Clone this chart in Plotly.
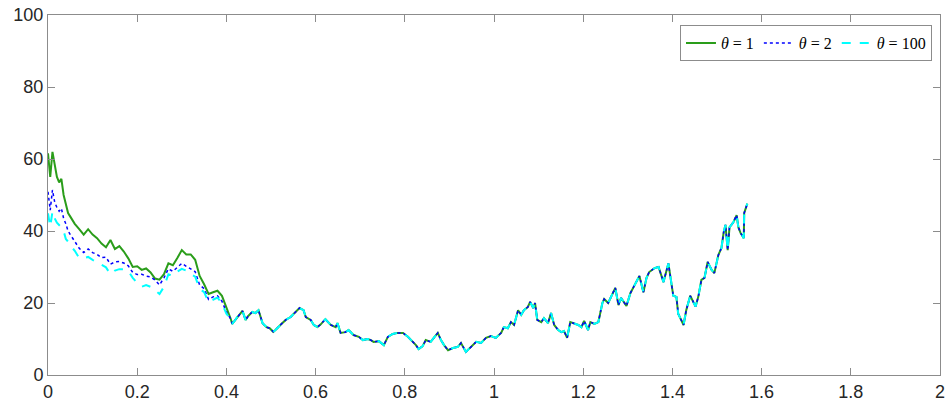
import plotly.graph_objects as go

# early part, where the three curves still differ
early_t = [0, 0.005, 0.01, 0.015, 0.02, 0.025, 0.03, 0.035, 0.04, 0.045, 0.05,
           0.06, 0.07, 0.08, 0.09, 0.10, 0.11, 0.12, 0.13, 0.14, 0.15, 0.16, 0.17,
           0.18, 0.19, 0.20, 0.21, 0.22, 0.23, 0.24, 0.25, 0.26, 0.27, 0.28, 0.29,
           0.30, 0.31, 0.32, 0.33, 0.34, 0.35, 0.36, 0.37, 0.38, 0.39, 0.40]
early_theta1 = [61.6, 55, 62, 58, 55, 53.5, 54.5, 50, 47, 45, 44,
                42, 40.5, 39, 40.5, 39, 38, 36.5, 35.5, 37.5, 35, 35.8, 34.3,
                32.4, 30, 30.2, 29.2, 29.6, 28.5, 26.8, 26.5, 28, 31, 30.5, 32.5,
                34.7, 33.5, 33.5, 32, 27.5, 25.2, 22.5, 23, 23.4, 22, 19]
early_theta2 = [50.9, 45.8, 51.4, 48, 46.5, 45.5, 46.3, 43.5, 42, 40, 39,
                37, 35.2, 34, 35, 34, 33.5, 32.6, 32.7, 30.8, 31.4, 31.5, 31.1,
                30.3, 28.5, 27.9, 28, 27.5, 27.2, 26.4, 25, 27, 29.5, 28.8, 30,
                31, 30.2, 29.4, 28.7, 25, 24, 21, 21.7, 22, 20.5, 17.5]
early_theta100 = [44.9, 41.2, 45.4, 43.5, 42.3, 41.7, 41, 40, 37.8, 37, 36,
                  34.5, 32.5, 32.5, 32.8, 32, 31.3, 30.6, 29.9, 28, 29, 29.4, 29.4,
                  28.9, 27, 25.5, 24.5, 25, 24.5, 23.5, 22.5, 24.5, 28, 27.5, 28.7,
                  29.5, 29, 28, 27.3, 24, 23, 20.3, 21, 21.5, 20, 17]

# after ~0.4 the curves coincide
tail_t = [0.41, 0.413, 0.42, 0.427, 0.436, 0.443, 0.449, 0.458, 0.465, 0.472, 0.481,
          0.49, 0.497, 0.505, 0.51, 0.521, 0.533, 0.544, 0.555, 0.564, 0.573, 0.578,
          0.589, 0.596, 0.604, 0.611, 0.622, 0.634, 0.645, 0.649, 0.656, 0.667, 0.674,
          0.685, 0.697, 0.706, 0.717, 0.724, 0.73, 0.742, 0.753, 0.762, 0.773, 0.784,
          0.796, 0.807, 0.818, 0.825, 0.831, 0.84, 0.847, 0.858, 0.865, 0.874, 0.881,
          0.888, 0.897, 0.908, 0.919, 0.926, 0.937, 0.948, 0.96, 0.971, 0.982, 0.993,
          1.004, 1.016, 1.022, 1.031, 1.038, 1.045, 1.054, 1.061, 1.067, 1.076, 1.081,
          1.088, 1.092, 1.097, 1.106, 1.112, 1.121, 1.128, 1.135, 1.144, 1.151, 1.157,
          1.164, 1.171, 1.18, 1.189, 1.196, 1.202, 1.211, 1.216, 1.225, 1.234, 1.243,
          1.247, 1.256, 1.263, 1.272, 1.279, 1.285, 1.297, 1.306, 1.312, 1.326, 1.335,
          1.342, 1.348, 1.36, 1.369, 1.38, 1.391, 1.402, 1.409, 1.413, 1.425, 1.431,
          1.44, 1.452, 1.458, 1.465, 1.472, 1.479, 1.488, 1.494, 1.503, 1.51, 1.515,
          1.519, 1.524, 1.528, 1.537, 1.544, 1.548, 1.553, 1.56, 1.561, 1.568]
tail_vals = [15.5, 14.2, 15.3, 16.7, 17.8, 15.3, 16.4, 17.5, 17.2, 18, 14.4,
             13.3, 13, 12, 12.5, 13.9, 15.3, 16.1, 17.5, 18.6, 18, 16.1,
             15.3, 13.9, 13.3, 14, 15.5, 13.9, 13.3, 14.4, 11.7, 11.9, 12.5,
             11.1, 10.6, 9.7, 10, 9.7, 9.2, 9.4, 8.3, 10.6, 11.4, 11.7,
             11.7, 10.6, 9.2, 8.3, 7.2, 8, 9.7, 9.2, 10.3, 11.7, 9.7,
             8.3, 6.9, 7.5, 7.8, 8.9, 6.4, 7.8, 9.2, 8.9, 10.3, 10.8,
             10.3, 11.7, 13.3, 13, 14.7, 13.9, 18, 16.7, 18, 18.9, 20.3,
             18.6, 20, 15.3, 14.7, 15.8, 14.4, 17.2, 13.9, 12.5, 11.9, 12.2,
             10.3, 14.7, 14.4, 13.9, 13.3, 15, 12.5, 14.7, 14.2, 14.7, 20,
             21.1, 20, 21.7, 24.2, 19.4, 21.4, 19.2, 22.8, 24.2, 27.5, 23,
             27, 28.6, 29.7, 30, 25.8, 31, 22, 21.7, 17, 13.9, 18,
             22, 19, 21.7, 26.4, 27, 31.4, 29.2, 28.3, 33.3, 35.3, 39.7,
             41.7, 34.7, 41, 42.5, 44.4, 41, 39.4, 38, 45, 47.6]

x_ticks = [0, 0.2, 0.4, 0.6, 0.8, 1, 1.2, 1.4, 1.6, 1.8, 2]
x_tick_labels = ['0', '0.2', '0.4', '0.6', '0.8', '1', '1.2', '1.4', '1.6', '1.8', '2']

series = [
    ("<i>θ</i> = 1", early_theta1, "#2a9d1a", "solid", 2),
    ("<i>θ</i> = 2", early_theta2, "#0000ff", "dot", 1.5),
    ("<i>θ</i> = 100", early_theta100, "#00ffff", "dash", 2),
]

fig = go.Figure()
for name, early, color, dash, width in series:
    fig.add_trace(go.Scatter(
        x=early_t + tail_t,
        y=early + tail_vals,
        mode='lines',
        name=name,
        line=dict(color=color, dash=dash, width=width)
    ))

axis_style = dict(
    showgrid=False,
    zeroline=False,
    showline=True,
    mirror='ticks',
    linecolor='#8c8c8c',
    linewidth=1,
    ticks='inside',
    ticklen=7,
    tickcolor='#8c8c8c',
    automargin=False,
    tickfont=dict(family='Liberation Sans, Arial, sans-serif', size=18, color='#262626'),
)

fig.update_layout(
    template='plotly_white',
    width=947,
    height=406,
    margin=dict(l=48, r=7, t=15, b=31),
    plot_bgcolor='white',
    paper_bgcolor='white',
    xaxis=dict(range=[0, 2], tickvals=x_ticks, ticktext=x_tick_labels, **axis_style),
    yaxis=dict(range=[0, 100], dtick=20, tick0=0, **axis_style),
    legend=dict(
        orientation='h',
        x=0.991, xanchor='right',
        y=0.972, yanchor='top',
        bgcolor='white',
        bordercolor='#8c8c8c',
        borderwidth=1,
        font=dict(family='Liberation Serif, serif', size=16, color='black'),
        itemwidth=30,
        tracegroupgap=0,
    ),
)

# drop the browser's default body margin so the figure sits at the page corner
fig.write_html("out.html", config={'displayModeBar': False},
               post_script="document.body.style.margin='0';")
